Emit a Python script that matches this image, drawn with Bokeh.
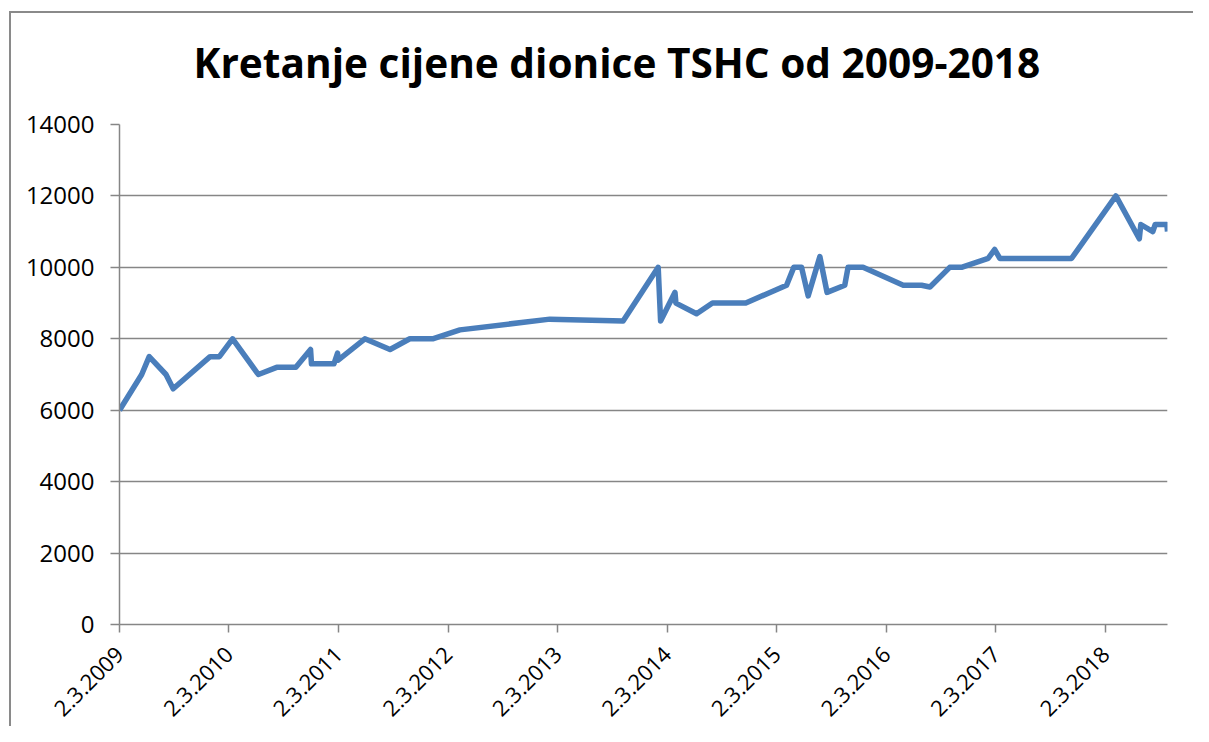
import math
import pandas as pd
from bokeh.plotting import figure
from bokeh.models import FixedTicker, Range1d, ColumnDataSource, Title
from bokeh.embed import file_html
from bokeh.resources import INLINE

title_text = "Kretanje cijene dionice TSHC od 2009-2018"

dates = [
    "2009-03-02", "2009-05-15", "2009-06-09", "2009-08-04", "2009-08-28",
    "2009-12-29", "2010-01-29", "2010-03-14", "2010-06-08", "2010-08-08",
    "2010-10-11", "2010-11-29", "2010-12-02", "2011-02-15", "2011-02-27",
    "2011-03-01", "2011-05-29", "2011-08-21", "2011-10-26", "2012-01-10",
    "2012-04-10", "2013-02-04", "2013-10-06", "2014-01-31", "2014-02-08",
    "2014-03-28", "2014-03-31", "2014-06-08", "2014-07-31", "2014-11-19",
    "2015-04-04", "2015-04-28", "2015-05-24", "2015-06-15", "2015-07-24",
    "2015-08-17", "2015-10-15", "2015-10-26", "2015-12-15", "2016-04-27",
    "2016-06-27", "2016-07-25", "2016-09-29", "2016-11-07", "2017-02-04",
    "2017-02-26", "2017-03-15", "2017-11-09", "2018-04-06", "2018-06-23",
    "2018-06-28", "2018-08-07", "2018-08-15", "2018-09-23", "2018-09-25",
]
prices = [
    6000, 7000, 7500, 7000, 6600,
    7500, 7500, 8000, 7000, 7200,
    7200, 7700, 7300, 7300, 7600,
    7400, 8000, 7700, 8000, 8000,
    8250, 8550, 8500, 10000, 8500,
    9300, 9000, 8700, 9000, 9000,
    9500, 10000, 10000, 9200, 10300,
    9300, 9500, 10000, 10000, 9500,
    9500, 9450, 10000, 10000, 10250,
    10500, 10250, 10250, 12000, 10800,
    11200, 11000, 11200, 11200, 11000,
]

tick_dates = ["2009-03-02", "2010-03-02", "2011-03-02", "2012-03-02", "2013-03-02",
              "2014-03-02", "2015-03-02", "2016-03-02", "2017-03-02", "2018-03-02"]
tick_labels = ["2.3.2009", "2.3.2010", "2.3.2011", "2.3.2012", "2.3.2013",
               "2.3.2014", "2.3.2015", "2.3.2016", "2.3.2017", "2.3.2018"]
y_ticks = [0, 2000, 4000, 6000, 8000, 10000, 12000, 14000]

def ms(d):
    return pd.Timestamp(d).value / 1e6

xs = [ms(d) for d in dates]
tick_pos = [ms(d) for d in tick_dates]

src = ColumnDataSource(dict(x=xs, y=prices))

FONT = "Open Sans"
GRID = "#868686"
BORDER = "#8a8a8a"

p = figure(width=1193, height=726, output_backend="svg", toolbar_location=None,
           x_range=Range1d(xs[0], xs[-1]), y_range=Range1d(0, 14000),
           min_border_left=119, min_border_right=26, min_border_top=124,
           min_border_bottom=101)
p.outline_line_color = None
p.background_fill_color = "white"
p.border_fill_alpha = 0
grad = f"linear-gradient({BORDER}, {BORDER})"
p.styles = {
    "background": f"{grad} 9px 11px / 2px 100% no-repeat, {grad} 9px 11px / 100% 2px no-repeat",
}

# spacer between the title and the plot frame
p.add_layout(Title(text=" ", text_font_size="1px", standoff=27), "above")

p.title.text = title_text
p.title.align = "left"
p.title.offset = 74
p.title.text_font = FONT
p.title.text_font_style = "bold"
p.title.text_font_size = "40.6px"
p.title.text_color = "black"
p.title.standoff = 10

p.line("x", "y", source=src, line_color="#4A7EBB", line_width=5.5, line_join="round")

p.xgrid.visible = False
p.ygrid.ticker = FixedTicker(ticks=y_ticks)
p.ygrid.grid_line_color = GRID
p.ygrid.grid_line_width = 1.5

p.yaxis.ticker = FixedTicker(ticks=y_ticks)
p.yaxis.major_label_text_font = FONT
p.yaxis.major_label_text_font_size = "24px"
p.yaxis.major_label_text_color = "black"
p.yaxis.axis_line_color = GRID
p.yaxis.axis_line_width = 1.5
p.yaxis.major_tick_line_color = GRID
p.yaxis.major_tick_line_width = 1.5
p.yaxis.major_tick_out = 9
p.yaxis.major_tick_in = 0
p.yaxis.minor_tick_line_color = None
p.yaxis.major_label_standoff = 16

p.xaxis.ticker = FixedTicker(ticks=tick_pos)
p.xaxis.major_label_overrides = {t: l for t, l in zip(tick_pos, tick_labels)}
p.xaxis.major_label_orientation = math.pi / 4
p.xaxis.major_label_text_font = FONT
p.xaxis.major_label_text_font_size = "22px"
p.xaxis.major_label_text_color = "black"
p.xaxis.axis_line_color = GRID
p.xaxis.axis_line_width = 1.5
p.xaxis.major_tick_line_color = GRID
p.xaxis.major_tick_line_width = 1.5
p.xaxis.major_tick_out = 8
p.xaxis.major_tick_in = 0
p.xaxis.minor_tick_line_color = None
p.xaxis.major_label_standoff = 18

open("out.html", "w").write(file_html(p, INLINE))
